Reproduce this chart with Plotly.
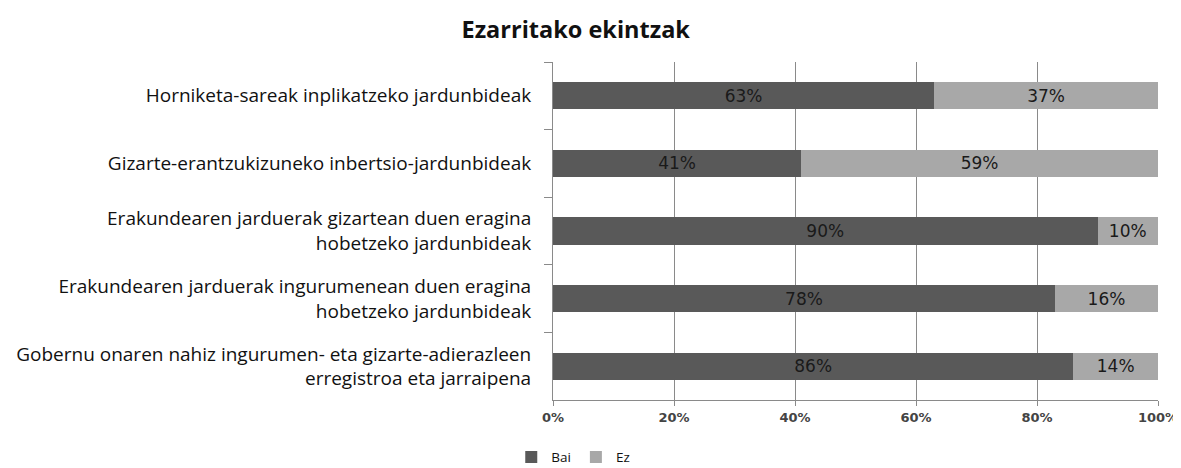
import plotly.graph_objects as go

categories = [
    "Horniketa-sareak inplikatzeko jardunbideak",
    "Gizarte-erantzukizuneko inbertsio-jardunbideak",
    "Erakundearen jarduerak gizartean duen eragina<br>hobetzeko jardunbideak",
    "Erakundearen jarduerak ingurumenean duen eragina<br>hobetzeko jardunbideak",
    "Gobernu onaren nahiz ingurumen- eta gizarte-adierazleen<br>erregistroa eta jarraipena",
]
bai = [63, 41, 90, 78, 86]
ez = [37, 59, 10, 16, 14]
x_ticks = [0, 20, 40, 60, 80, 100]
x_tick_labels = ["0%", "20%", "40%", "60%", "80%", "100%"]

label_font = dict(family="DejaVu Sans", size=17, color="#1a1a1a")

fig = go.Figure()
fig.add_trace(go.Bar(
    y=categories, x=bai, name="Bai", orientation="h",
    marker=dict(color="#595959", line=dict(width=0)),
    text=[f"{v}%" for v in bai], textposition="inside", insidetextanchor="middle",
    textfont=label_font,
))
fig.add_trace(go.Bar(
    y=categories, x=ez, name="Ez", orientation="h",
    marker=dict(color="#a8a8a8", line=dict(width=0)),
    text=[f"{v}%" for v in ez], textposition="inside", insidetextanchor="middle",
    textfont=label_font,
))

# page body has an 8px default margin; figure is sized to fill the rest of the window
fig.update_layout(
    width=1173, height=460,
    barmode="stack", barnorm="percent", bargap=0.6,
    paper_bgcolor="white", plot_bgcolor="white",
    margin=dict(l=545, r=23, t=54, b=68, autoexpand=False),
    title=dict(text="<b>Ezarritako ekintzak</b>", x=0.484, xanchor="center", y=0.952, yanchor="middle",
               font=dict(family="Open Sans", size=23.5, color="#111")),
    font=dict(family="Open Sans", size=19, color="#111"),
    showlegend=True,
    legend=dict(orientation="h", x=-0.069, xanchor="left", y=-0.169, yanchor="middle",
                font=dict(family="Open Sans", size=13.5, color="#111"),
                itemwidth=30, traceorder="normal", bgcolor="rgba(0,0,0,0)"),
    uniformtext=dict(mode=None),
)
fig.update_xaxes(
    range=[0, 100], tickvals=x_ticks, ticktext=x_tick_labels,
    showgrid=True, gridcolor="#8a8a8a", gridwidth=1,
    showline=True, linecolor="#8a8a8a", linewidth=1,
    ticks="outside", ticklen=5, tickcolor="#8a8a8a",
    tickfont=dict(family="DejaVu Sans", size=13, color="#444", weight="bold"),
    zeroline=False, fixedrange=True,
)
fig.update_yaxes(
    autorange="reversed", type="category",
    showline=True, linecolor="#8a8a8a", linewidth=1,
    ticks="outside", tickson="boundaries", ticklen=8, tickcolor="#8a8a8a",
    ticklabelstandoff=17,
    tickfont=dict(family="Open Sans", size=19, color="#111"),
    showgrid=False, fixedrange=True,
)

fig.write_html("out.html")
